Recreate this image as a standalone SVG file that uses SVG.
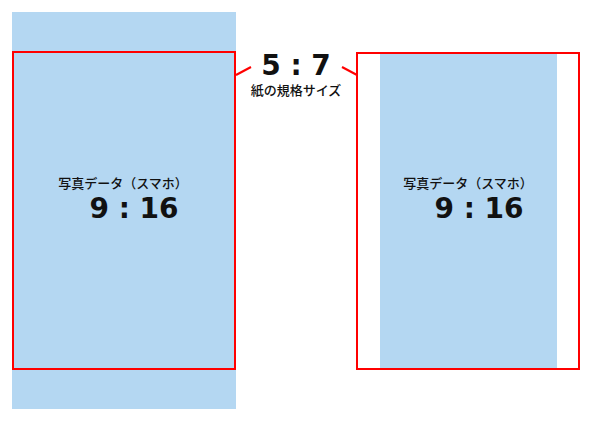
<svg xmlns="http://www.w3.org/2000/svg" width="600" height="422" viewBox="0 0 600 422">
<style>
.blue{fill:#b4d7f2;stroke:none}
.frame{fill:none;stroke:#ff0000;stroke-width:2}
.jp{font-family:"Noto Sans CJK JP","Noto Sans",sans-serif;font-size:13px;font-weight:500;fill:#111;text-anchor:middle}
.num{font-family:"DejaVu Sans",sans-serif;font-weight:bold;font-size:28px;fill:#111;text-anchor:middle}
.link{stroke:#ff0000;stroke-width:2;fill:none}
</style>
<rect width="600" height="422" fill="#fff"/>
<g id="left-photo">
<rect class="blue" x="12" y="12" width="224" height="397"/>
<rect class="frame" x="13" y="52" width="222" height="317"/>
<text class="jp" x="123" y="188">写真データ（スマホ）</text>
<text class="num" x="134" y="218">9 : 16</text>
</g>
<g id="right-photo">
<rect class="frame" x="357" y="53" width="222" height="316"/>
<rect class="blue" x="380" y="54" width="177" height="314"/>
<text class="jp" x="468" y="188">写真データ（スマホ）</text>
<text class="num" x="479" y="218">9 : 16</text>
</g>
<g id="paper-label">
<text class="num" x="296" y="75">5 : 7</text>
<text class="jp" x="296" y="95">紙の規格サイズ</text>
</g>
<g id="connectors">
<line class="link" x1="236" y1="75" x2="251" y2="67"/>
<line class="link" x1="342" y1="67" x2="357" y2="75"/>
</g>
</svg>
